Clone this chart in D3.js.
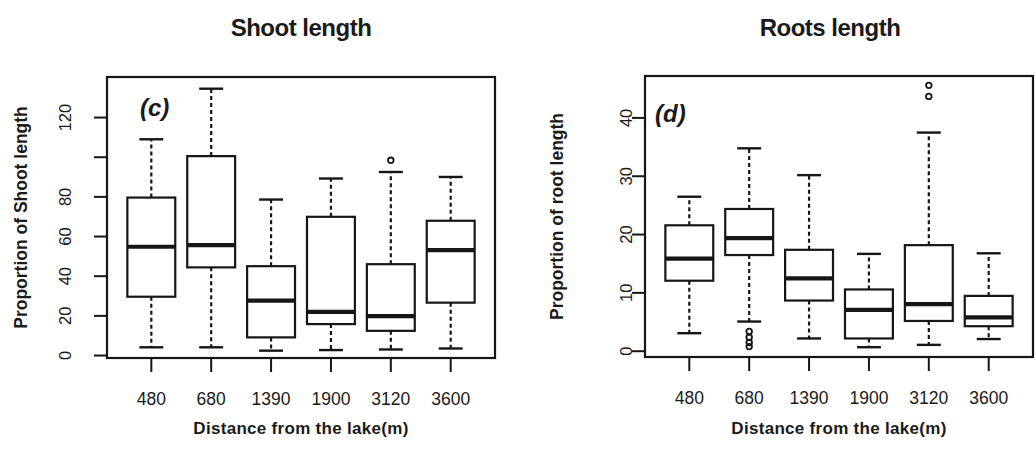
<!DOCTYPE html>
<html>
<head>
<meta charset="utf-8">
<script src="https://cdn.jsdelivr.net/npm/d3@7"></script>
<style>
html,body{margin:0;padding:0;background:#fff;}
svg{display:block;}
text{font-family:"Liberation Sans",Arial,sans-serif;fill:#1a1a1a;}
</style>
</head>
<body>
<svg id="chart" width="1036" height="469"></svg>
<script>
// ---- data ----
const categories = ["480", "680", "1390", "1900", "3120", "3600"];

// Shoot length (panel c): [lowerWhisker, Q1, median, Q3, upperWhisker]
const shootLower  = [3.9, 3.9, 2.2, 2.5, 2.8, 3.3];
const shootQ1     = [29.4, 44.2, 8.9, 15.6, 12.2, 26.4];
const shootMedian = [54.6, 55.4, 27.4, 21.8, 19.6, 52.9];
const shootQ3     = [79.4, 100.3, 44.8, 69.7, 45.8, 67.7];
const shootUpper  = [108.8, 134.3, 78.4, 89.0, 92.3, 89.8];
const shootOutliers = [[], [], [], [], [98.2], []];
const shootTicks = [0, 20, 40, 60, 80, 100, 120];
const shootTickLabels = ["0", "20", "40", "60", "80", "", "120"];

// Roots length (panel d)
const rootLower  = [3.0, 5.0, 2.1, 0.6, 1.0, 2.0];
const rootQ1     = [12.0, 16.4, 8.6, 2.1, 5.1, 4.2];
const rootMedian = [15.8, 19.3, 12.4, 7.0, 8.0, 5.7];
const rootQ3     = [21.5, 24.3, 17.3, 10.5, 18.1, 9.4];
const rootUpper  = [26.4, 34.7, 30.1, 16.6, 37.4, 16.7];
const rootOutliers = [[], [3.3, 2.3, 1.4, 0.7], [], [], [45.5, 43.6], []];
const rootTicks = [0, 10, 20, 30, 40];
const rootTickLabels = ["0", "10", "20", "30", "40"];

const svg = d3.select("#chart");
const ink = "#161616";

function panel(cfg) {
  const g = svg.append("g");
  const x = d3.scaleBand().domain(categories)
    .range([cfg.left, cfg.right]).paddingInner(0).paddingOuter(0.24);
  const y = d3.scaleLinear().domain(cfg.domain).range([cfg.bottom, cfg.top]);
  const bw = x.bandwidth() * 0.8;
  const cw = bw * 0.5;
  const cx = c => x(c) + x.bandwidth() / 2;

  // title
  g.append("text").attr("x", cfg.titleX).attr("y", 36)
    .attr("text-anchor", "middle").attr("font-size", 24).attr("font-weight", "bold")
    .attr("letter-spacing", -0.5).text(cfg.title);

  // boxes
  categories.forEach((c, i) => {
    const xc = cx(c);
    g.append("line").attr("x1", xc).attr("x2", xc)
      .attr("y1", y(cfg.q3[i])).attr("y2", y(cfg.hi[i]))
      .attr("stroke", ink).attr("stroke-width", 2.2).attr("stroke-dasharray", "4,3");
    g.append("line").attr("x1", xc).attr("x2", xc)
      .attr("y1", y(cfg.q1[i])).attr("y2", y(cfg.lo[i]))
      .attr("stroke", ink).attr("stroke-width", 2.2).attr("stroke-dasharray", "4,3");
    [cfg.hi[i], cfg.lo[i]].forEach(v => {
      g.append("line").attr("x1", xc - cw / 2).attr("x2", xc + cw / 2)
        .attr("y1", y(v)).attr("y2", y(v)).attr("stroke", ink).attr("stroke-width", 2.4);
    });
    g.append("rect").attr("x", xc - bw / 2).attr("width", bw)
      .attr("y", y(cfg.q3[i])).attr("height", y(cfg.q1[i]) - y(cfg.q3[i]))
      .attr("fill", "#fff").attr("stroke", ink).attr("stroke-width", 2.2);
    g.append("line").attr("x1", xc - bw / 2).attr("x2", xc + bw / 2)
      .attr("y1", y(cfg.med[i])).attr("y2", y(cfg.med[i]))
      .attr("stroke", ink).attr("stroke-width", 4.2);
    cfg.out[i].forEach(v => {
      g.append("circle").attr("cx", xc).attr("cy", y(v)).attr("r", 2.8)
        .attr("fill", "none").attr("stroke", ink).attr("stroke-width", 1.8);
    });
  });

  // frame
  g.append("rect").attr("x", cfg.left).attr("y", cfg.top)
    .attr("width", cfg.right - cfg.left).attr("height", cfg.bottom - cfg.top)
    .attr("fill", "none").attr("stroke", ink).attr("stroke-width", 2.2);

  // y axis
  const yAxis = d3.axisLeft(y).tickValues(cfg.ticks).tickSize(13)
    .tickFormat((d, i) => cfg.tickLabels[i]);
  const ya = g.append("g").attr("transform", `translate(${cfg.left},0)`).call(yAxis);
  ya.select(".domain").attr("stroke", ink).attr("stroke-width", 2)
    .attr("d", `M0,${y(cfg.ticks[0])}V${y(cfg.ticks[cfg.ticks.length - 1])}`);
  ya.selectAll(".tick line").attr("stroke", ink).attr("stroke-width", 2);
  ya.selectAll(".tick text").attr("font-size", 16.5).attr("fill", ink)
    .attr("x", null).attr("dy", null)
    .attr("transform", `translate(${cfg.tickLabelX - cfg.left},0) rotate(-90)`)
    .attr("text-anchor", "middle").attr("dominant-baseline", "middle")
    .style("font-family", "'Liberation Sans',Arial,sans-serif");

  // x axis
  const xAxis = d3.axisBottom(x).tickSize(14).tickPadding(21);
  const xa = g.append("g").attr("transform", `translate(0,${cfg.bottom})`).call(xAxis);
  xa.select(".domain").remove();
  xa.selectAll(".tick line").attr("stroke", ink).attr("stroke-width", 2);
  xa.selectAll(".tick text").attr("font-size", 17.5).attr("fill", ink)
    .style("font-family", "'Liberation Sans',Arial,sans-serif");

  // axis titles
  g.append("text").attr("x", (cfg.left + cfg.right) / 2).attr("y", 434)
    .attr("text-anchor", "middle").attr("font-size", 17).attr("font-weight", "bold")
    .attr("letter-spacing", 0.3).text("Distance from the lake(m)");
  g.append("text")
    .attr("transform", `translate(${cfg.ylabX},${(cfg.top + cfg.bottom) / 2}) rotate(-90)`)
    .attr("text-anchor", "middle").attr("dominant-baseline", "middle")
    .attr("font-size", 17.5).attr("font-weight", "bold")
    .text(cfg.ylab);

  // panel letter
  g.append("text").attr("x", cfg.letterX).attr("y", cfg.letterY)
    .attr("font-size", 24).attr("font-style", "italic").attr("font-weight", "bold")
    .text(cfg.letter);
}

panel({
  title: "Shoot length", titleX: 301,
  left: 107, right: 495, top: 77, bottom: 358, domain: [-1.5, 140.2],
  lo: shootLower, q1: shootQ1, med: shootMedian, q3: shootQ3, hi: shootUpper,
  out: shootOutliers, ticks: shootTicks, tickLabels: shootTickLabels,
  tickLabelX: 67, ylabX: 22, ylab: "Proportion of Shoot length",
  letter: "(c)", letterX: 140, letterY: 116
});

panel({
  title: "Roots length", titleX: 830,
  left: 645, right: 1033, top: 76, bottom: 357, domain: [-1.08, 47.1],
  lo: rootLower, q1: rootQ1, med: rootMedian, q3: rootQ3, hi: rootUpper,
  out: rootOutliers, ticks: rootTicks, tickLabels: rootTickLabels,
  tickLabelX: 628, ylabX: 558, ylab: "Proportion of root length",
  letter: "(d)", letterX: 655, letterY: 122
});
</script>
</body>
</html>
